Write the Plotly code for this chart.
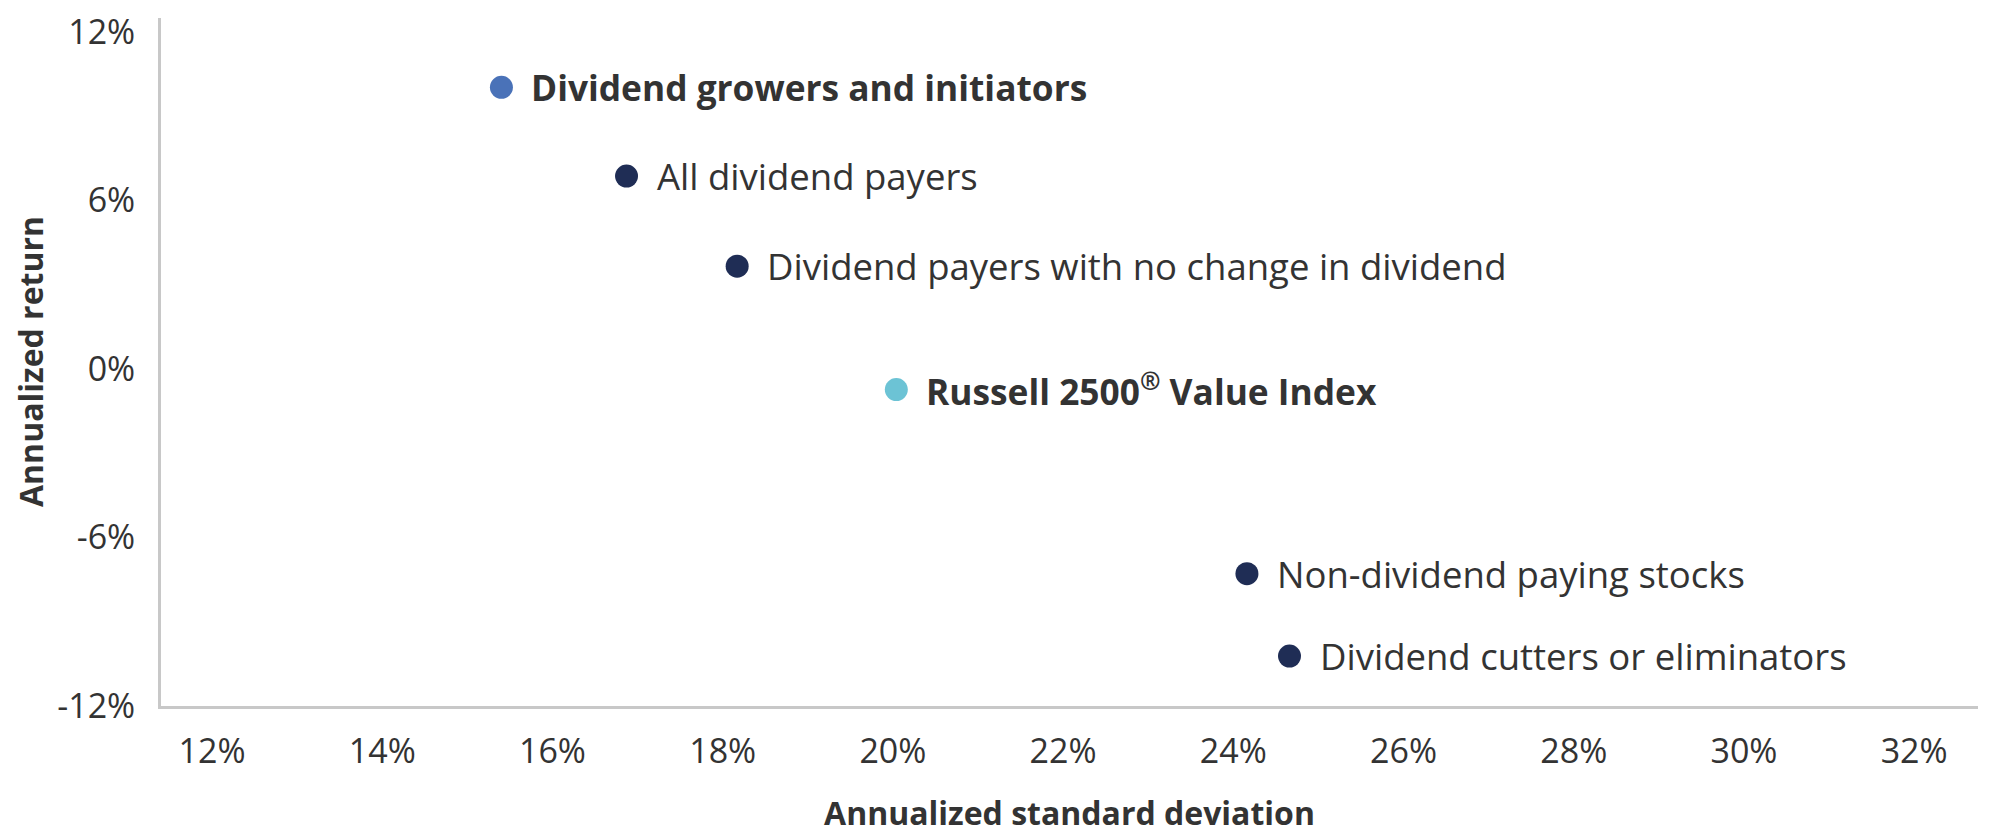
import plotly.graph_objects as go

names = [
    "Dividend growers and initiators",
    "All dividend payers",
    "Dividend payers with no change in dividend",
    "Russell 2500<sup>®</sup> Value Index",
    "Non-dividend paying stocks",
    "Dividend cutters or eliminators",
]
std_dev = [15.40, 16.87, 18.17, 20.04, 24.16, 24.66]
ann_return = [10.03, 6.87, 3.66, -0.73, -7.29, -10.22]
colors = ["#4a72b8", "#1f2d55", "#1f2d55", "#6cc3d5", "#1f2d55", "#1f2d55"]

x_ticks = [12, 14, 16, 18, 20, 22, 24, 26, 28, 30, 32]
x_tick_text = [f"{v}%" for v in x_ticks]
y_ticks = [-12, -6, 0, 6, 12]
y_tick_text = [f"{v}%" for v in y_ticks]

# styling (not data)
BOLD_LABELS = {"Dividend growers and initiators", "Russell 2500<sup>®</sup> Value Index"}
FONT = "Open Sans"
TXT = "#333333"

fig = go.Figure()
fig.add_trace(go.Scatter(
    x=std_dev, y=ann_return, mode="markers",
    marker=dict(size=23, color=colors, line=dict(width=0)),
    showlegend=False, hoverinfo="skip",
))

for n, xv, yv in zip(names, std_dev, ann_return):
    bold = n in BOLD_LABELS
    fig.add_annotation(x=xv, y=yv, text=f"<b>{n}</b>" if bold else n,
                       showarrow=False, xanchor="left", yanchor="middle",
                       xshift=28,
                       font=dict(family=FONT, size=35.3 if bold else 36.5,
                                 color=TXT))

# y-axis title placed as a rotated annotation in the left margin
fig.add_annotation(xref="paper", yref="paper", x=0, y=0.5, xshift=-131,
                   text="<b>Annualized return</b>", textangle=-90,
                   showarrow=False, xanchor="center", yanchor="middle",
                   borderpad=0,
                   font=dict(family=FONT, size=32, color=TXT))

fig.update_layout(
    width=2000, height=834,
    margin=dict(l=153, r=30, t=10, b=136),
    paper_bgcolor="white", plot_bgcolor="white",
    font=dict(family=FONT, color=TXT),
    xaxis=dict(
        range=[11.4, 32.75], tickvals=x_ticks, ticktext=x_tick_text,
        showgrid=False, zeroline=False, showline=True, automargin=False,
        linecolor="#c8c8c8", linewidth=3,
        tickfont=dict(family=FONT, size=34, color=TXT),
        ticks="", ticklabelstandoff=13,
        title=dict(text="<b>Annualized standard deviation</b>",
                   font=dict(family=FONT, size=32, color=TXT), standoff=31),
    ),
    yaxis=dict(
        range=[-12, 12.5], tickvals=y_ticks, ticktext=y_tick_text,
        showgrid=False, zeroline=False, showline=True, automargin=False,
        linecolor="#c8c8c8", linewidth=3,
        tickfont=dict(family=FONT, size=34, color=TXT),
        ticks="", ticklabelstandoff=16, ticklabeloverflow="allow",
    ),
)

fig.write_html("out.html")
